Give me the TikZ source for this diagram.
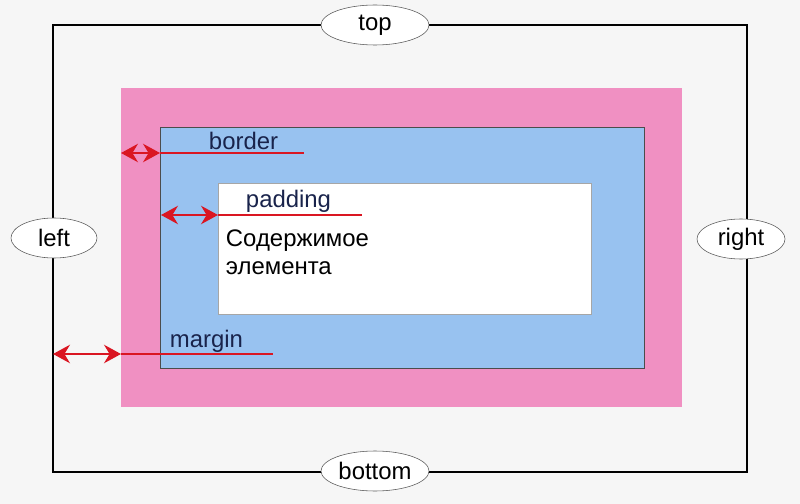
\documentclass[tikz,border=0pt]{standalone}
\usepackage{fontspec}
\setmainfont{Liberation Sans}
\definecolor{boxpink}{RGB}{240,144,194}
\definecolor{boxblue}{RGB}{152,194,240}
\definecolor{arrred}{RGB}{218,22,34}
\definecolor{bggray}{RGB}{246,246,246}
\definecolor{labnavy}{RGB}{25,35,75}
\usetikzlibrary{arrows.meta,shapes.geometric}

\begin{document}
\begin{tikzpicture}[
  x=0.025cm,y=-0.025cm,
  every node/.style={font=\fontsize{17}{20}\selectfont},
  sidelabel/.style={draw=gray!70!black,ellipse,fill=white,minimum width=2.7cm,
                    minimum height=1.0cm,inner sep=1pt},
  boxlabel/.style={anchor=west,text=labnavy},
  redarrow/.style={arrred,line width=2pt,{Stealth[length=12pt,width=13pt]}-{Stealth[length=12pt,width=13pt]}},
  redline/.style={arrred,line width=2pt},
]
  % background and page frame
  \fill[bggray] (0,0) rectangle (800,504);
  \useasboundingbox (0,0) rectangle (800,504);
  \draw[line width=2pt] (53,25) rectangle (747,472);

  % margin / border / padding / content boxes
  \fill[boxpink] (121,88) rectangle (682,407);
  \draw[fill=boxblue,draw=gray!60!black,thin] (160,127) rectangle (644,368);
  \draw[fill=white,draw=gray!70,thin] (218,183) rectangle (591,314);

  % side labels
  \node[sidelabel] (top) at (375,25) {top};
  \node[sidelabel] (bottom) at (375,471) {bottom};
  \node[sidelabel,minimum width=2.15cm] (left) at (54,238) {left};
  \node[sidelabel,minimum width=2.2cm] (right) at (741,239) {right};

  % texts
  \node[boxlabel] (brd) at (204,141) {border};
  \node[boxlabel] (pad) at (241,201) {padding};
  \node[anchor=west,align=left] (cnt) at (221,252) {Содержимое\\элемента};
  \node[boxlabel] (mrg) at (165,341) {margin};

  % arrow end points
  \coordinate (b1) at (121,153);
  \coordinate (b2) at (160,153);
  \coordinate (b3) at (304,153);
  \coordinate (p1) at (161,215);
  \coordinate (p2) at (218,215);
  \coordinate (p3) at (362,215);
  \coordinate (m1) at (53,354);
  \coordinate (m2) at (121,354);
  \coordinate (m3) at (273,354);

  % red arrows
  \draw[redline] (b2) -- (b3);
  \draw[redarrow] (b1) -- (b2);
  \draw[redline] (p2) -- (p3);
  \draw[redarrow] (p1) -- (p2);
  \draw[redline] (m2) -- (m3);
  \draw[redarrow] (m1) -- (m2);
\end{tikzpicture}
\end{document}
